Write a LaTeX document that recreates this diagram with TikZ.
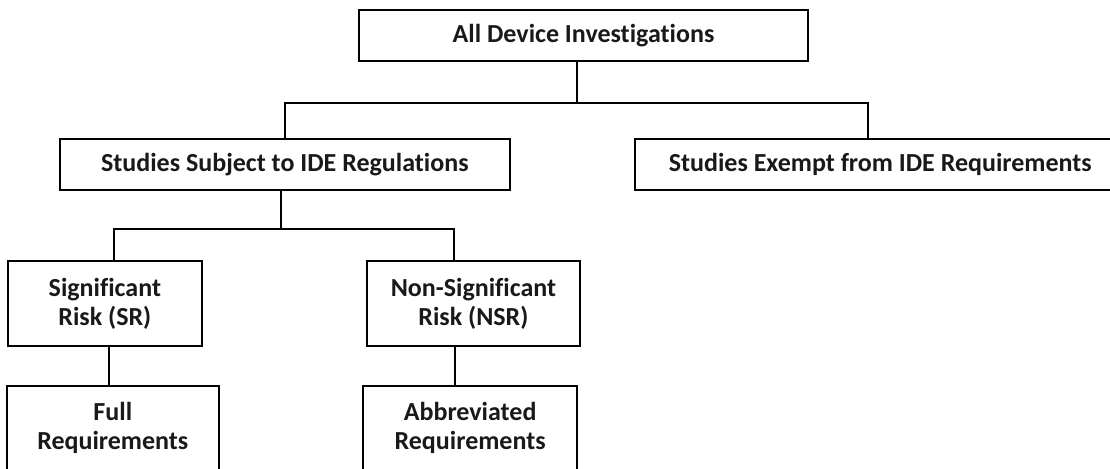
\documentclass[tikz,border=0pt]{standalone}
\usepackage{fontspec}
\setmainfont[Ligatures=CommonOff]{Carlito}
\begin{document}
\begin{tikzpicture}[x=0.5pt,y=-0.5pt,
  box/.style={draw=black,line width=1pt,rectangle,inner sep=0pt,align=center,
    font=\bfseries\fontsize{13}{14.5}\selectfont,text=black!90},
  link/.style={draw=black,line width=1pt}]
\clip (0,0) rectangle (1110,468);
\fill[white] (0,0) rectangle (1110,468);
% nodes
\node[box,minimum width=224.5pt,minimum height=25.5pt] (top) at (583.5,35.5) {All Device Investigations};
\node[box,minimum width=224.8pt,minimum height=25.35pt] (subj) at (284.8,164.35) {Studies Subject to IDE Regulations};
\node[box,minimum width=245.7pt,minimum height=25.35pt] (exempt) at (880.3,164.35) {Studies Exempt from IDE Requirements};
\node[box,minimum width=96.85pt,minimum height=42.35pt] (sr) at (104.85,303.35) {Significant\\Risk (SR)};
\node[box,minimum width=106.6pt,minimum height=42.35pt] (nsr) at (473.4,303.35) {Non-Significant\\Risk (NSR)};
\node[box,minimum width=105.8pt,minimum height=42.25pt] (full) at (112.8,427.75) {Full\\Requirements};
\node[box,minimum width=107.15pt,minimum height=42.15pt] (abbr) at (470.15,427.85) {Abbreviated\\Requirements};
% junctions
\coordinate (j0) at (577,103);
\coordinate (j1l) at (285,103);
\coordinate (j1r) at (867.5,103);
\coordinate (k0) at (281,229.3);
\coordinate (k1l) at (113.6,229.3);
\coordinate (k1r) at (453.6,229.3);
\coordinate (m1) at (108.5,300);
\coordinate (m2) at (455,300);
% connectors
\draw[link] (top.south -| j0) -- (j0);
\draw[link] (j1l |- subj.north) -- (j1l) -- (j1r) -- (j1r |- exempt.north);
\draw[link] (subj.south -| k0) -- (k0);
\draw[link] (k1l |- sr.north) -- (k1l) -- (k1r) -- (k1r |- nsr.north);
\draw[link] (sr.south -| m1) -- (full.north -| m1);
\draw[link] (nsr.south -| m2) -- (abbr.north -| m2);
\end{tikzpicture}
\end{document}
